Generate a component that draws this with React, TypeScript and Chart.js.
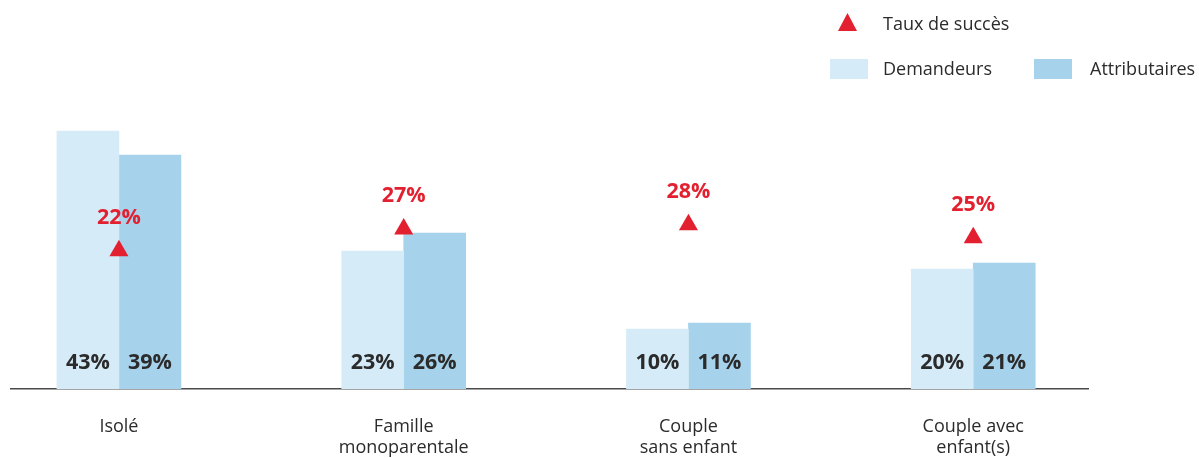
import React, { useEffect, useRef } from 'react';
import { Chart, registerables } from 'chart.js';

Chart.register(...registerables);

// ---- Data ----
const categories: string[][] = [
  ['Isolé'],
  ['Famille', 'monoparentale'],
  ['Couple', 'sans enfant'],
  ['Couple avec', 'enfant(s)'],
];
const seriesNames = ['Demandeurs', 'Attributaires', 'Taux de succès'];
const demandeurs = [43, 23, 10, 20];
const attributaires = [39, 26, 11, 21];
const tauxSucces = [22, 27, 28, 25];

// ---- Styles ----
const FONT = '"Open Sans", "Noto Sans", sans-serif';
const LIGHT = '#D6EBF8';
const DARK = '#A6D2EB';
const RED = '#E3202F';
const TEXT = '#2B2B2B';
const AXIS = '#4A4A4A';

const valueLabels = {
  id: 'valueLabels',
  afterDatasetsDraw(chart: any) {
    const ctx = chart.ctx;
    ctx.save();
    ctx.textAlign = 'center';
    ctx.textBaseline = 'alphabetic';
    ctx.font = `bold 21.5px ${FONT}`;
    chart.data.datasets.forEach((ds: any, di: number) => {
      const meta = chart.getDatasetMeta(di);
      meta.data.forEach((el: any, i: number) => {
        const v = ds.data[i].y;
        if (ds.type === 'bar') {
          ctx.fillStyle = TEXT;
          ctx.fillText(`${v}%`, el.x, el.base - 20);
        } else {
          ctx.fillStyle = RED;
          ctx.fillText(`${v}%`, el.x, el.y - 27);
        }
      });
    });
    ctx.restore();
  },
};

const customLegend = {
  id: 'customLegend',
  afterDraw(chart: any) {
    const ctx = chart.ctx;
    const ds = chart.data.datasets;
    ctx.save();
    ctx.font = `18px ${FONT}`;
    ctx.textAlign = 'left';
    ctx.textBaseline = 'alphabetic';
    // triangle item
    const tri = ds.find((d: any) => d.type !== 'bar');
    ctx.fillStyle = tri.pointBackgroundColor;
    ctx.beginPath();
    ctx.moveTo(847.5, 13);
    ctx.lineTo(857, 31);
    ctx.lineTo(838, 31);
    ctx.closePath();
    ctx.fill();
    ctx.fillStyle = TEXT;
    ctx.fillText(tri.label, 883, 29.5);
    // bar items
    const bars = ds.filter((d: any) => d.type === 'bar');
    const boxX = [830, 1034];
    const textX = [883, 1090];
    bars.forEach((b: any, i: number) => {
      ctx.fillStyle = b.backgroundColor;
      ctx.fillRect(boxX[i], 59, 38, 20);
      ctx.fillStyle = TEXT;
      ctx.fillText(b.label, textX[i], 74.5);
    });
    ctx.restore();
  },
};

export default function App() {
  const canvasRef = useRef<HTMLCanvasElement | null>(null);

  useEffect(() => {
    if (!canvasRef.current) return;
    const toPts = (arr: number[]) => arr.map((y, i) => ({ x: i, y }));
    const chart = new Chart(canvasRef.current, {
      data: {
        datasets: [
          {
            type: 'line',
            label: seriesNames[2],
            data: toPts(tauxSucces),
            yAxisID: 'y2',
            showLine: false,
            pointStyle: 'triangle',
            pointRadius: 11,
            pointHoverRadius: 11,
            pointBackgroundColor: RED,
            pointBorderColor: RED,
            pointBorderWidth: 0,
            order: -1,
          } as any,
          {
            type: 'bar',
            label: seriesNames[0],
            data: toPts(demandeurs),
            backgroundColor: LIGHT,
            barThickness: 62,
            yAxisID: 'y',
          },
          {
            type: 'bar',
            label: seriesNames[1],
            data: toPts(attributaires),
            backgroundColor: DARK,
            barThickness: 62,
            yAxisID: 'y',
          },
        ],
      },
      options: {
        animation: false,
        responsive: true,
        maintainAspectRatio: false,
        layout: { padding: { top: 89, left: 10, right: 111, bottom: 0 } },
        plugins: { legend: { display: false }, tooltip: { enabled: false } },
        scales: {
          x: {
            type: 'linear',
            bounds: 'data',
            offset: false,
            min: -0.379,
            max: 3.403,
            grid: { display: false, offset: false },
            border: { display: true, color: AXIS, width: 1.5 },
            afterBuildTicks: (scale: any) => {
              scale.ticks = categories.map((_, i) => ({ value: i }));
            },
            afterFit: (scale: any) => {
              scale.height = 69;
            },
            ticks: {
              autoSkip: false,
              maxRotation: 0,
              padding: 20,
              color: TEXT,
              font: { family: FONT, size: 18, lineHeight: 1.15 },
              callback: (value: any) =>
                Number.isInteger(value) && categories[value] ? categories[value] : '',
            },
          },
          y: { display: false, min: 0, max: 50 },
          y2: { display: false, min: -9.92, max: 59.3 },
        },
      },
      plugins: [valueLabels, customLegend],
    } as any);
    return () => chart.destroy();
  }, []);

  return (
    <div style={{ position: 'fixed', left: 0, top: 0, width: 1199, height: 458, background: '#fff' }}>
      <canvas ref={canvasRef} />
    </div>
  );
}
